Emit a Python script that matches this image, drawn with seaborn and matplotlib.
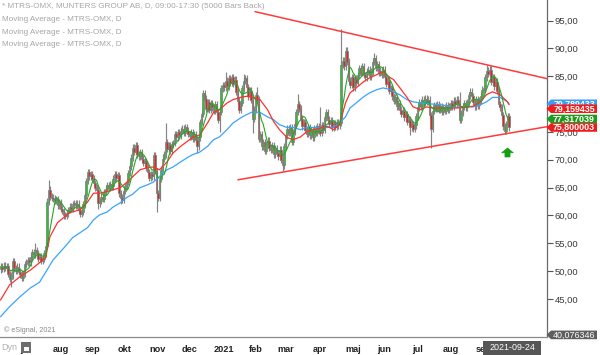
import numpy as np
import pandas as pd
import matplotlib
matplotlib.use("Agg")
import matplotlib.pyplot as plt
import matplotlib.transforms as mtransforms
from matplotlib.patches import Polygon, Rectangle
import seaborn as sns

# ---------------- data ----------------
start_date, end_date = "2020-06-08", "2021-09-24"

close_2020_06 = [50.8, 50.4, 51.0, 50.6, 50.9, 49.5, 48.6, 49.2, 51.8, 50.5, 50.0, 50.8, 49.9, 49.4, 48.8, 49.6, 51.2]
close_2020_07 = [51.5, 52.0, 51.6, 52.6, 53.4, 53.0, 53.8, 53.2, 52.2, 52.6, 51.8, 52.2, 53.2, 54.6, 62.5, 64.6, 63.4, 63.2, 63.0, 62.6, 62.9, 61.8, 62.4]
close_2020_08 = [61.2, 60.8, 60.0, 59.9, 60.4, 61.0, 61.6, 61.2, 62.0, 62.2, 61.8, 62.1, 61.0, 60.3, 60.6, 62.0, 63.6, 66.2, 67.8, 67.0, 67.4]
close_2020_09 = [66.6, 65.8, 65.0, 64.6, 62.2, 62.6, 63.4, 63.0, 64.2, 64.8, 65.4, 64.9, 65.6, 65.2, 66.6, 67.4, 66.8, 67.2, 64.0, 63.2, 62.8, 64.4]
close_2020_10 = [65.2, 66.0, 67.6, 68.8, 70.4, 72.2, 71.4, 72.6, 71.0, 70.6, 71.4, 70.2, 69.4, 69.8, 68.6, 67.8, 66.8, 67.4, 67.0, 70.8, 68.0, 64.0]
close_2020_11 = [63.2, 66.6, 68.2, 70.2, 71.0, 73.2, 72.0, 72.6, 71.6, 72.8, 73.0, 74.6, 74.0, 75.0, 74.4, 75.2, 75.6, 74.8, 75.8, 75.2, 74.6]
close_2020_12 = [74.2, 75.0, 73.8, 74.6, 73.6, 72.4, 74.0, 76.8, 78.2, 82.0, 81.0, 79.2, 80.4, 79.0, 80.2, 79.4, 78.8, 80.0, 78.6, 77.2, 78.6, 82.8, 83.4]
close_2021_01 = [83.0, 84.2, 83.2, 84.6, 83.8, 84.8, 83.6, 84.4, 82.2, 80.6, 79.0, 80.2, 82.8, 84.2, 84.6, 83.0, 81.4, 82.4, 80.8, 77.4, 79.0]
close_2021_02 = [81.6, 80.8, 73.8, 74.6, 72.4, 73.2, 71.6, 72.8, 73.4, 72.2, 71.8, 72.6, 71.0, 72.0, 71.2, 70.6, 71.8, 70.0, 69.0, 72.4]
close_2021_03 = [74.4, 75.6, 74.8, 75.8, 73.2, 75.0, 76.4, 78.6, 80.0, 79.2, 77.4, 76.0, 76.8, 75.4, 74.6, 75.8, 74.4, 75.2, 74.0, 75.6, 74.8, 76.0, 75.2]
close_2021_04 = [74.8, 76.2, 75.4, 77.6, 78.6, 77.2, 76.4, 77.0, 75.8, 76.6, 75.9, 76.8, 76.2, 76.6, 87.0, 87.8, 86.8, 89.6, 87.6, 84.2, 83.4, 84.8]
close_2021_05 = [83.0, 84.6, 83.8, 85.2, 86.4, 85.6, 86.8, 85.2, 84.8, 85.8, 86.2, 85.0, 85.8, 87.6, 88.2, 86.6, 87.2, 85.6, 86.0, 85.2, 86.2]
close_2021_06 = [84.8, 83.6, 84.2, 82.4, 82.8, 81.4, 80.6, 81.2, 79.6, 80.2, 79.0, 78.2, 78.8, 77.6, 78.2, 76.8, 77.2, 75.8, 76.4, 75.6, 76.2, 77.8]
close_2021_07 = [79.4, 80.4, 79.6, 80.8, 80.2, 81.0, 80.4, 80.8, 78.0, 75.6, 78.8, 79.8, 79.2, 80.0, 79.0, 79.6, 78.6, 79.4, 78.8, 79.8, 79.0, 79.6]
close_2021_08 = [80.2, 79.6, 80.6, 80.0, 80.8, 80.2, 77.2, 78.4, 79.6, 80.2, 79.4, 80.4, 81.6, 82.2, 81.4, 80.4, 79.6, 80.8, 79.8, 80.6, 81.4, 82.6]
close_2021_09 = [82.8, 84.8, 86.0, 85.4, 86.2, 84.0, 84.8, 83.2, 84.0, 82.4, 80.0, 79.4, 78.0, 76.0, 75.2, 76.4, 77.8, 75.8]
first_open = 50.3

# notable wick extremes (bar index -> price)
high_extremes = {23: 55.0, 32: 66.4, 110: 76.6, 150: 85.8, 162: 85.4, 171: 83.0,
                 198: 81.8, 213: 79.5, 227: 93.4, 249: 89.2, 306: 82.2, 324: 87.0}
low_extremes = {7: 47.2, 43: 59.4, 65: 61.2, 80: 62.0, 104: 60.6, 131: 71.3,
                146: 74.9, 168: 74.8, 188: 68.0, 273: 74.5, 287: 72.2, 336: 74.6}

# moving averages (bar index, value)
red_ma_bars = [0, 6, 13, 20, 26, 30, 33, 38, 42, 46, 53, 58, 62, 66, 71, 75, 80, 84, 86, 93, 98, 102, 106, 111,
               115, 120, 124, 128, 133, 138, 142, 146, 151, 155, 160, 164, 168, 173, 178, 182, 186, 191, 195,
               200, 204, 208, 213, 218, 222, 226, 230, 233, 238, 242, 246, 251, 255, 260, 262, 266, 271, 275,
               280, 284, 288, 293, 300, 306, 311, 315, 320, 324, 328, 333, 338, 339]
red_ma_vals = [44.8, 47.5, 49.0, 50.2, 51.5, 52.4, 56.2, 58.7, 59.6, 60.5, 61.0, 62.4, 64.0, 64.0, 64.3, 64.6, 65.0,
               65.9, 66.4, 68.2, 68.6, 68.7, 68.2, 69.6, 71.2, 72.4, 73.2, 74.0, 74.5, 76.6, 78.5, 79.0, 80.2,
               80.8, 81.2, 81.4, 81.2, 80.8, 79.0, 76.9, 75.4, 74.0, 73.6, 74.1, 75.0, 75.4, 75.7, 76.0, 75.4,
               76.3, 80.2, 82.0, 83.1, 84.0, 84.7, 85.3, 85.8, 84.7, 84.4, 83.0, 81.2, 79.5, 79.0, 79.5, 79.3,
               79.3, 79.3, 79.3, 79.5, 79.6, 80.4, 81.7, 82.2, 81.7, 80.4, 79.9]
blue_ma_bars = [0, 6, 13, 20, 26, 31, 35, 40, 44, 48, 53, 58, 62, 66, 71, 75, 80, 84, 88, 93, 98, 102, 106, 111,
                115, 120, 124, 128, 133, 138, 142, 146, 151, 155, 160, 164, 168, 173, 178, 182, 186, 191, 195,
                200, 204, 208, 213, 218, 222, 226, 230, 233, 238, 242, 246, 251, 255, 260, 262, 266, 271, 275,
                280, 284, 288, 293, 300, 306, 311, 315, 320, 324, 328, 333, 338, 339]
blue_ma_vals = [41.8, 43.6, 45.4, 47.0, 48.0, 50.2, 52.0, 53.5, 54.7, 56.0, 56.9, 57.8, 59.2, 60.1, 60.6, 61.5, 62.3,
                63.2, 63.8, 65.0, 65.5, 66.0, 67.0, 68.2, 68.7, 69.6, 70.3, 70.9, 71.4, 72.4, 73.6, 74.1, 75.4,
                76.6, 77.5, 78.1, 78.6, 78.5, 77.7, 77.2, 76.3, 75.8, 75.8, 75.4, 75.8, 75.8, 75.8, 75.8, 75.9,
                76.6, 77.7, 79.3, 80.4, 81.3, 82.0, 82.6, 82.9, 82.6, 82.2, 81.7, 80.8, 80.4, 80.2, 80.1, 80.0,
                79.9, 79.5, 79.4, 79.5, 79.5, 79.9, 80.4, 81.2, 81.2, 80.4, 80.0]
green_ma_window = 7

# trendlines (bar position, price)
upper_trend_bars, upper_trend_prices = [169.7, 364.3], [96.6, 84.57]
lower_trend_bars, lower_trend_prices = [158.3, 364.3], [66.4, 75.94]

# signal arrow (bar, price)
arrow_bar, arrow_tip, arrow_base, arrow_neck = 338.0, 72.1, 70.5, 71.25

y_ticks = [45, 50, 55, 60, 65, 70, 75, 80, 85, 90, 95]
month_names = {1: "2021", 2: "feb", 3: "mar", 4: "apr", 5: "maj", 6: "jun", 7: "jul",
               8: "aug", 9: "sep", 10: "okt", 11: "nov", 12: "dec"}
tag_values = [80.05, 79.159435, 77.317039, 75.800003]
tag_texts = ["79,789433", "79,159435", "77,317039", "75,800003"]
tag_colors = ["#3d9df5", "#ee1c1c", "#1f9a1f", "#ee1c1c"]
bottom_tag_text, bottom_tag_value = "40,076346", 38.55
header_lines = ["* MTRS-OMX, MUNTERS GROUP AB, D, 09:00-17:30 (5000 Bars Back)",
                "Moving Average - MTRS-OMX, D", "Moving Average - MTRS-OMX, D",
                "Moving Average - MTRS-OMX, D"]

# ---------------- build ----------------
dates = pd.bdate_range(start_date, end_date)
closes = np.array(close_2020_06 + close_2020_07 + close_2020_08 + close_2020_09 + close_2020_10 +
                  close_2020_11 + close_2020_12 + close_2021_01 + close_2021_02 + close_2021_03 +
                  close_2021_04 + close_2021_05 + close_2021_06 + close_2021_07 + close_2021_08 +
                  close_2021_09)
assert len(closes) == len(dates), (len(closes), len(dates))
n = len(closes)
idx = np.arange(n)
opens = np.r_[first_open, closes[:-1]]
wick_pad = 0.6
highs = np.maximum(opens, closes) + wick_pad
lows = np.minimum(opens, closes) - wick_pad
for k, v in high_extremes.items():
    highs[k] = max(highs[k], v)
for k, v in low_extremes.items():
    lows[k] = min(lows[k], v)
green_ma = pd.Series(closes).rolling(green_ma_window, min_periods=1).mean().values

sns.set_theme(style="white")
plt.rcParams['font.family'] = ['Liberation Sans', 'DejaVu Sans']

W, H = 600, 355
fig = plt.figure(figsize=(W / 100, H / 100), dpi=100)
fig.patch.set_facecolor("white")
ax = fig.add_axes([0, 18 / H, 547 / W, 337 / H])
ax.set_facecolor("white")

# candles
up = closes >= opens
ax.vlines(idx, lows, highs, color="#858585", linewidth=0.85, zorder=2)
body_lo = np.minimum(opens, closes)
body_h = np.maximum(np.abs(closes - opens), 0.15)
ax.bar(idx, body_h, bottom=body_lo, width=1.15,
       color=np.where(up, "#2fbf2f", "#e02424"), edgecolor="#7c7c7c", linewidth=0.5, zorder=3)

# moving averages
sns.lineplot(x=blue_ma_bars, y=blue_ma_vals, ax=ax, color="#3aa3ff", linewidth=0.9, zorder=4)
sns.lineplot(x=red_ma_bars, y=red_ma_vals, ax=ax, color="#ff3030", linewidth=0.9, zorder=5)
sns.lineplot(x=idx, y=green_ma, ax=ax, color="#23a823", linewidth=0.8, zorder=6)

# trendlines
ax.plot(upper_trend_bars, upper_trend_prices, color="#ff3a3a", linewidth=1.1, zorder=7, clip_on=False)
ax.plot(lower_trend_bars, lower_trend_prices, color="#ff3a3a", linewidth=1.1, zorder=7, clip_on=False)

# green arrow
ax.add_patch(Polygon([(arrow_bar, arrow_tip), (arrow_bar - 3.9, arrow_neck), (arrow_bar - 1.7, arrow_neck),
                      (arrow_bar - 1.7, arrow_base), (arrow_bar + 1.7, arrow_base),
                      (arrow_bar + 1.7, arrow_neck), (arrow_bar + 3.9, arrow_neck)],
                     closed=True, facecolor="#12a012", edgecolor="#12a012", linewidth=0.5, zorder=8))

# axes limits
ax.set_xlim(-1 / 3, 364.33)
ax.set_ylim(38.17, 98.69)

# spines
for s in ["top", "left"]:
    ax.spines[s].set_visible(False)
ax.spines["right"].set_color("#6a6a6a")
ax.spines["bottom"].set_color("#8a8a8a")
ax.spines["right"].set_linewidth(0.9)
ax.spines["bottom"].set_linewidth(0.9)

# y axis
ax.yaxis.tick_right()
ax.set_yticks(y_ticks)
ax.set_yticklabels([f"{v:.2f}".replace(".", ",") for v in y_ticks])
ax.tick_params(axis="y", direction="out", length=4, width=0.8, color="#555555",
               labelsize=6.8, labelcolor="#3a3a3a", pad=1.5)

# x axis: month starts
month_pos, month_lab = [], []
prev_month = dates[0].month
for i, d in enumerate(dates):
    if d.month != prev_month:
        month_pos.append(i)
        month_lab.append(month_names[d.month])
    prev_month = d.month
ax.set_xticks(month_pos)
ax.set_xticklabels(month_lab, fontweight="bold")
ax.tick_params(axis="x", direction="out", length=2.5, width=0.8, color="#555555",
               labelsize=6.6, labelcolor="#222222", pad=3.5)
ax.set_xlabel("")
ax.set_ylabel("")

# price tags on the right
trans = mtransforms.blended_transform_factory(fig.transFigure, ax.transData)
half_h = 4.3 / 5.556
z = 20
for val, txt, col in zip(tag_values, tag_texts, tag_colors):
    poly = Polygon([(546.5 / W, val), (551 / W, val + half_h), (597 / W, val + half_h),
                    (597 / W, val - half_h), (551 / W, val - half_h)], closed=True,
                   transform=trans, facecolor=col, edgecolor="none", zorder=z)
    fig.add_artist(poly)
    fig.text(574 / W, val, txt, transform=trans, ha="center", va="center", color="white",
             fontsize=6.4, fontweight="bold", zorder=z + 1)
    z += 2
poly = Polygon([(546.5 / W, bottom_tag_value), (551 / W, bottom_tag_value + half_h),
                (597 / W, bottom_tag_value + half_h), (597 / W, bottom_tag_value - half_h),
                (551 / W, bottom_tag_value - half_h)], closed=True, transform=trans,
               facecolor="#5e5e5e", edgecolor="none", zorder=z)
fig.add_artist(poly)
fig.text(574 / W, bottom_tag_value, bottom_tag_text, transform=trans, ha="center", va="center",
         color="white", fontsize=6.4, zorder=z + 1)

# date tag at the bottom
trans2 = mtransforms.blended_transform_factory(ax.transData, fig.transFigure)
last_bar = n - 1
fig.add_artist(Rectangle((last_bar - 17.3, 0), 38.7, 14 / H, transform=trans2,
                         facecolor="#565656", edgecolor="none", zorder=30))
fig.text(last_bar + 2.0, 7 / H, dates[-1].strftime("%Y-%m-%d"), transform=trans2, ha="center",
         va="center", color="white", fontsize=6.4, zorder=31)

# header texts
for k, line in enumerate(header_lines):
    fig.text(2 / W, 1 - (6.5 + 12.8 * k) / H, line, ha="left", va="center", color="#a6a6a6", fontsize=5.9)

# footer
fig.text(4 / W, 1 - 330 / H, "© eSignal, 2021", ha="left", va="center", color="#8a8a8a", fontsize=5.2)
fig.text(1 / W, 1 - 347.5 / H, "Dyn", ha="left", va="center", color="#b0b0b0", fontsize=6.5)
fig.add_artist(Rectangle((21 / W, 1 - 353 / H), 10 / W, 11 / H, transform=fig.transFigure,
                         facecolor="#6e6e6e", edgecolor="none"))
fig.add_artist(Rectangle((23.5 / W, 1 - 351 / H), 5 / W, 4 / H, transform=fig.transFigure,
                         facecolor="white", edgecolor="none"))

fig.savefig("out.png", dpi=100, facecolor="white")
